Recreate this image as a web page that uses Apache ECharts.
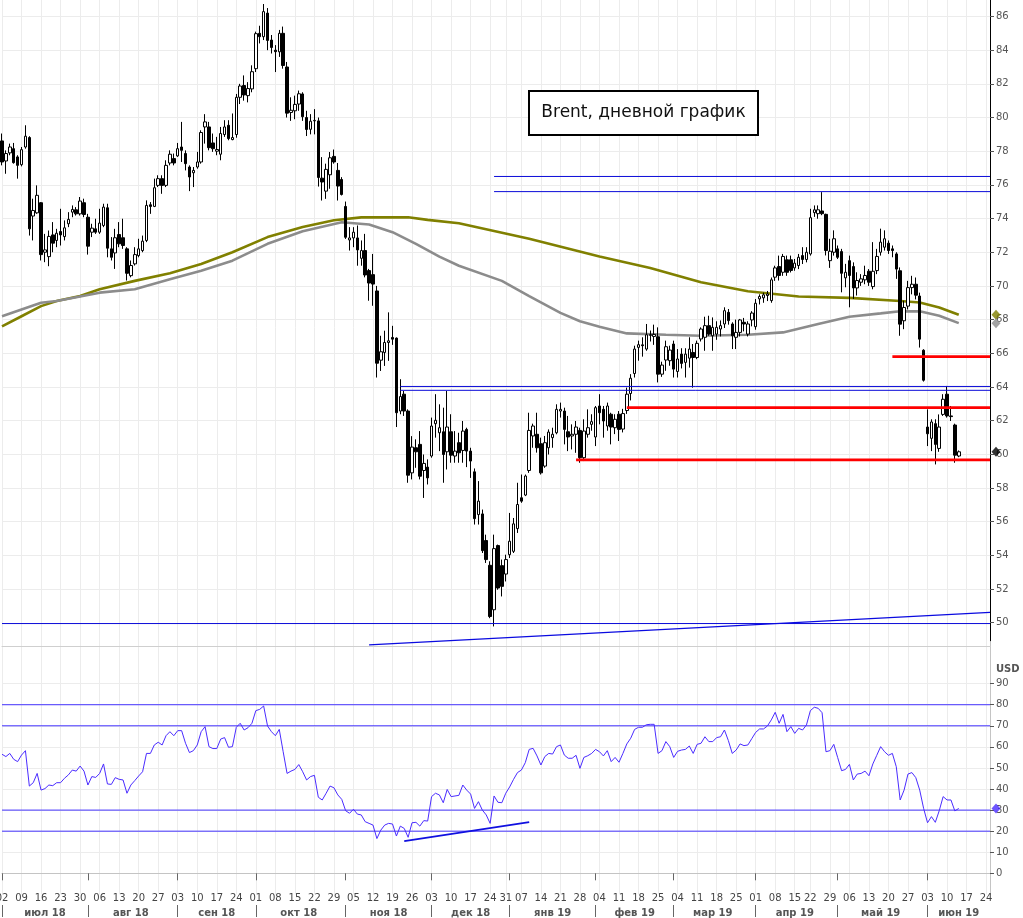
<!DOCTYPE html>
<html><head><meta charset="utf-8">
<script src="https://cdn.jsdelivr.net/npm/echarts@6/dist/echarts.min.js"></script>
<style>html,body{margin:0;padding:0;background:#fff}#c{width:1023px;height:918px}</style>
</head><body><div id="c"></div>
<script>
// ---------- data ----------
const startDate = '2018-07-02';
const endDate = '2019-06-25';
const holidays = ['2018-12-25', '2019-01-01', '2019-04-19'];
const monthNames = ['янв','фев','мар','апр','май','июн','июл','авг','сен','окт','ноя','дек'];
const titleText = 'Brent, дневной график';
const rsiUnit = 'USD';
const priceTicks = [50,52,54,56,58,60,62,64,66,68,70,72,74,76,78,80,82,84,86];
const rsiTicks = [0,10,20,30,40,50,60,70,80,90];

// [open, close, low, high] per trading day from 2018-07-02
const candles = [
[78.61,77.36,77.16,79.05],[77.42,77.86,76.66,78.05],[77.9,78.25,77.76,78.45],[78.15,77.32,77.26,78.49],[77.66,77.16,76.37,77.76],
[77.2,78.09,77.1,78.25],[78.25,78.89,78.15,79.54],[78.81,73.39,72.99,78.89],[74.15,74.48,72.7,75.18],[74.34,75.38,74.28,75.97],
[74.94,71.86,71.51,74.98],[72.0,72.14,71.41,73.09],[71.74,72.94,71.17,73.29],[73.03,72.54,72.0,73.79],[72.7,73.13,72.3,73.39],
[73.23,73.03,72.4,74.58],[72.93,73.45,72.7,73.89],[73.69,73.95,73.49,74.38],[74.38,74.54,74.08,74.78],[74.52,74.28,74.18,74.68],
[74.28,75.04,74.18,75.28],[74.94,74.24,74.08,75.18],[74.08,72.36,71.86,74.28],[73.19,73.43,72.9,73.69],[73.39,73.19,73.09,73.99],
[73.19,73.73,73.09,74.58],[73.59,74.68,73.49,74.88],[74.64,72.24,71.7,74.88],[72.2,71.7,71.51,72.9],[71.96,72.86,71.01,73.39],
[73.05,72.5,72.3,73.79],[72.86,72.4,72.2,73.99],[72.2,70.75,70.32,72.3],[70.61,71.21,70.51,71.51],[71.31,71.86,71.21,72.3],
[71.8,72.2,71.7,72.8],[72.1,72.66,72.0,72.99],[72.7,74.78,72.6,75.08],[74.82,74.72,74.28,74.98],[74.72,75.83,74.68,76.37],
[75.97,76.37,75.87,76.57],[76.37,75.97,75.47,76.57],[75.97,77.16,75.87,77.46],[77.3,77.82,77.16,78.05],[77.56,77.3,77.16,77.86],
[77.72,78.15,77.66,78.49],[78.25,78.05,77.36,79.74],[77.86,77.26,76.86,78.05],[77.06,76.47,75.63,77.16],[76.72,76.86,75.87,77.06],
[77.06,77.36,76.96,77.96],[77.36,79.11,77.26,79.24],[79.44,79.74,78.45,80.2],[79.44,78.21,78.05,79.74],[78.49,78.15,77.96,79.05],
[78.0,78.1,77.76,78.85],[77.82,79.05,77.46,79.44],[78.99,79.44,78.85,79.84],[79.54,78.75,78.65,79.84],[78.69,78.81,78.65,80.24],
[78.99,81.2,78.8,81.4],[81.2,81.87,80.8,82.0],[81.9,81.34,81.0,82.5],[81.3,81.72,80.9,82.1],[81.7,82.72,81.5,83.1],
[82.9,84.98,82.7,85.1],[85.0,84.8,84.4,85.45],[84.8,86.29,84.6,86.74],[86.2,84.58,84.0,86.5],[84.6,84.16,83.8,84.9],
[84.0,83.91,82.7,84.3],[83.9,85.0,83.6,85.2],[85.0,83.09,82.9,85.4],[83.0,80.26,80.0,83.3],[80.3,80.43,79.8,81.2],
[80.4,80.78,79.9,81.3],[80.8,81.41,80.4,81.6],[81.4,80.05,79.8,81.5],[80.0,79.29,78.9,80.4],[79.3,79.78,79.0,80.2],
[79.8,79.83,79.0,80.5],[79.8,76.44,75.9,80.0],[76.4,76.17,75.07,77.65],[75.63,76.92,75.17,77.26],[76.6,77.61,75.77,77.95],
[77.69,77.36,77.26,78.1],[76.86,75.93,75.07,77.3],[76.32,75.43,75.37,76.46],[74.72,72.89,72.79,75.01],[72.73,72.85,72.1,73.49],
[72.85,73.19,72.3,73.49],[72.85,72.14,71.2,73.59],[71.64,72.1,71.2,72.7],[72.1,70.65,70.51,73.09],[70.91,70.17,69.12,71.01],
[70.67,70.11,68.82,71.9],[69.7,65.41,64.56,70.0],[65.59,66.09,64.95,67.04],[66.05,66.64,65.25,67.34],[66.64,66.74,65.55,68.43],
[66.94,66.84,66.5,67.63],[66.9,62.47,61.62,66.94],[62.57,63.43,62.38,64.46],[63.57,62.57,62.28,63.76],[62.57,58.76,58.31,62.67],
[58.9,60.43,58.51,61.08],[60.39,60.15,59.2,60.89],[60.59,58.7,58.51,61.38],[59.04,59.46,57.41,59.99],[59.24,58.6,58.21,59.7],
[59.9,61.68,59.8,62.18],[61.82,62.02,60.99,63.57],[61.28,61.58,60.19,62.97],[61.34,59.99,58.31,62.77],[60.15,61.62,59.1,63.76],
[61.34,59.95,59.5,62.38],[59.9,60.19,59.5,61.38],[60.69,60.09,59.5,61.28],[60.23,61.38,59.5,61.98],[61.48,60.19,59.24,61.58],
[60.19,59.6,58.6,60.39],[58.96,56.18,55.83,59.16],[56.42,57.22,55.83,58.41],[56.46,54.28,54.14,56.72],[54.88,53.75,53.55,55.23],
[53.41,50.37,50.27,53.65],[50.77,54.4,49.78,55.23],[54.58,52.06,51.96,54.64],[53.39,52.16,51.56,53.75],[52.89,53.75,52.45,54.04],
[54.04,54.84,53.84,56.52],[54.24,55.87,54.14,56.22],[55.59,57.02,55.33,58.31],[57.42,57.22,57.12,58.8],[57.58,58.71,57.52,58.8],
[59.04,61.42,58.9,62.47],[61.09,61.68,60.39,61.82],[61.19,60.39,60.1,62.47],[60.63,58.9,58.8,60.99],[59.3,60.69,59.2,61.09],
[60.39,61.32,59.99,61.48],[60.99,61.19,60.39,61.58],[61.28,62.67,61.19,62.97],[62.57,62.67,62.18,63.07],[62.57,61.48,60.59,62.77],
[61.34,61.03,60.19,62.28],[61.09,61.19,60.29,61.78],[61.19,61.62,60.09,61.98],[61.42,59.8,59.5,61.58],[59.8,61.38,59.6,62.08],
[61.19,61.58,60.99,62.67],[61.78,61.94,61.4,62.38],[61.03,62.77,60.49,62.87],[62.87,62.47,61.78,63.57],[62.67,61.98,60.99,62.87],
[61.68,62.87,61.4,63.07],[62.38,61.62,60.59,62.47],[61.58,62.08,61.2,62.38],[62.38,61.48,60.79,62.57],[61.5,62.42,61.3,62.7],
[62.6,63.57,62.4,63.96],[63.61,64.52,63.2,64.76],[64.8,66.25,64.56,66.45],[66.35,66.51,65.56,66.75],[66.5,66.45,65.8,66.95],
[66.25,67.1,66.15,67.74],[67.1,67.07,66.7,67.35],[67.0,67.12,66.5,67.7],[66.98,64.76,64.27,67.54],[64.76,65.3,64.6,65.5],
[65.6,66.39,64.96,66.75],[65.56,66.19,65.26,66.45],[66.55,65.06,64.56,66.75],[64.92,65.66,64.56,66.25],[65.95,65.4,65.1,66.3],
[65.46,65.95,64.56,66.3],[65.71,66.25,65.15,66.95],[66.05,65.75,63.96,66.55],[65.75,66.59,65.65,66.75],[66.85,67.44,66.7,67.54],
[66.95,67.64,66.15,68.17],[67.64,67.14,67.04,68.23],[67.04,67.54,66.15,68.13],[67.14,67.54,66.8,67.9],[67.44,67.64,67.0,67.95],
[67.74,68.53,67.5,68.73],[68.43,67.94,67.7,68.63],[67.74,67.04,66.25,67.84],[66.95,67.24,66.25,68.0],[67.24,67.98,67.0,68.04],
[67.84,67.74,67.3,68.1],[67.14,67.74,67.0,67.9],[67.98,68.39,67.6,68.5],[67.58,68.97,67.4,69.22],[69.23,69.37,68.9,69.5],
[69.29,69.47,69.0,69.6],[69.43,69.52,69.1,69.7],[69.13,70.36,69.0,70.5],[70.52,71.07,70.3,71.2],[71.15,70.62,70.32,71.8],
[70.81,71.75,70.6,71.9],[71.55,70.81,70.6,71.8],[71.55,70.92,70.8,71.8],[71.07,71.35,70.9,71.6],[71.21,71.7,71.0,71.9],
[71.8,71.57,71.3,72.3],[71.57,72.0,71.4,72.3],[71.9,74.05,71.8,74.58],[74.35,74.52,74.1,74.78],[74.29,74.52,73.99,74.78],
[74.45,74.29,74.2,75.57],[74.25,72.1,71.81,74.29],[71.5,72.06,71.07,72.8],[72.0,72.8,71.8,73.3],[72.2,71.7,71.6,72.4],
[72.04,70.75,69.62,72.2],[70.48,70.81,69.92,71.31],[71.5,70.62,68.73,71.8],[71.15,69.88,69.23,71.4],[69.88,70.32,69.43,70.81],
[70.22,70.42,70.0,70.7],[70.36,70.62,70.1,71.2],[70.87,70.22,70.0,71.0],[69.96,70.87,69.8,72.6],[70.91,71.75,70.7,72.2],
[72.0,72.6,71.8,73.4],[72.3,72.8,72.1,73.3],[72.54,72.1,71.9,72.7],[72.2,72.1,71.7,72.4],[71.9,71.0,70.42,72.0],
[70.9,67.73,67.04,71.1],[67.93,68.72,67.43,69.12],[68.8,69.9,68.6,70.3],[69.9,70.1,69.5,70.6],[70.1,69.45,69.2,70.5],
[69.4,66.84,66.34,69.6],[66.18,64.4,64.32,66.24],[61.62,61.22,60.49,62.67],[60.95,61.92,60.19,62.08],[61.82,60.59,59.4,62.08],
[60.35,61.62,60.15,62.37],[62.37,63.27,62.28,63.57],[63.57,62.28,62.18,64.06],[62.28,62.24,61.98,62.87],[61.74,59.95,59.5,61.82],
[59.9,60.15,59.83,60.23]
];

// RSI per trading day
const rsi = [
56.5,55.4,56.9,54.1,53.0,56.1,58.2,41.4,43.0,47.4,
39.5,40.2,41.9,41.6,43.0,43.0,45.1,46.7,49.0,48.5,
50.9,48.5,41.9,45.9,45.5,47.4,51.9,42.4,42.2,45.4,
44.6,44.3,38.0,41.9,44.0,46.2,48.2,56.9,56.9,60.9,
62.2,60.9,65.3,67.2,65.3,67.7,67.7,61.7,57.3,58.2,
60.9,67.2,69.6,60.1,59.2,59.2,63.7,64.4,59.8,60.1,
69.3,71.2,68.0,69.1,71.2,77.2,77.8,79.4,69.9,67.2,
65.3,68.3,57.7,47.4,48.5,49.3,51.6,48.2,44.3,45.9,
46.5,36.1,34.8,38.0,41.4,40.6,37.2,35.1,29.7,28.5,
30.4,28.1,27.7,24.5,23.7,22.9,16.5,20.5,22.9,23.7,
23.4,17.7,22.4,21.3,17.1,24.0,24.2,22.4,25.0,24.8,
36.4,38.0,37.2,33.5,39.8,36.4,36.7,37.0,41.9,39.5,
37.6,30.8,34.0,30.0,27.7,23.7,36.7,33.7,33.5,38.0,
41.0,44.6,47.8,49.0,52.5,58.8,59.3,55.7,51.4,55.4,
56.9,56.6,60.1,60.9,56.1,54.6,54.6,56.0,49.8,55.0,
55.8,56.9,58.8,57.7,55.7,58.2,53.0,55.0,52.7,56.9,
61.4,64.1,68.3,69.3,69.3,70.5,70.7,70.7,56.9,58.2,
62.5,60.1,55.0,57.9,58.5,58.8,60.4,56.9,61.2,61.7,
64.8,62.5,62.5,64.4,64.8,68.0,63.0,56.9,58.5,61.4,
60.6,60.9,63.9,66.9,68.5,68.5,69.9,72.8,76.4,71.2,
75.4,67.2,69.6,66.4,68.8,68.0,70.4,77.2,78.8,78.3,
76.2,57.7,58.2,61.2,54.9,48.7,49.3,51.7,44.3,47.1,
47.4,48.5,46.3,51.9,56.0,60.1,57.7,56.0,56.9,50.6,
34.8,39.5,47.1,47.8,45.4,39.5,30.8,24.0,26.9,24.2,
29.7,36.4,34.8,34.8,29.6,30.8
];

// moving averages read at [trading-day index, value]
const maOlive = [[0,67.6],[5,68.2],[10,68.8],[14,69.1],[20,69.4],[25,69.8],[34,70.3],[43,70.75],[51,71.3],[59,72.0],[68,72.9],[77,73.5],[85,73.9],[92,74.07],[104,74.08],[109,73.92],[117,73.72],[135,72.8],[153,71.75],[166,71.07],[179,70.22],[191,69.68],[204,69.37],[217,69.29],[230,69.1],[235,69.02],[240,68.72],[245,68.29]];
const maGray = [[0,68.2],[10,69.0],[14,69.1],[25,69.6],[34,69.8],[43,70.4],[51,70.9],[59,71.5],[68,72.5],[77,73.25],[87,73.78],[94,73.65],[100,73.19],[106,72.5],[112,71.74],[117,71.2],[128,70.3],[135,69.4],[143,68.4],[148,67.9],[153,67.58],[160,67.18],[170,67.1],[179,67.04],[191,67.1],[200,67.24],[209,67.74],[217,68.17],[225,68.37],[230,68.5],[235,68.49],[240,68.23],[245,67.79]];

// horizontal levels: [start index, price]  (run to the right edge)
const blueLevels = [[126,76.5],[126,75.6],[102,64.03],[102,63.8],[0,49.95]];
const redLevels = [[228,65.8],[160,62.77],[147,59.67]];
const priceTrend = [[94,48.68],[253,50.61]];
const rsiLevels = [80,70,30,20];
const rsiTrend = [[103,15.3],[135,24.3]];

// ---------- helpers ----------
function tradingDays(s, e, hol) {
  const out = []; const d = new Date(s + 'T00:00:00Z'); const end = new Date(e + 'T00:00:00Z');
  while (d <= end) {
    const wd = d.getUTCDay(); const str = d.toISOString().slice(0, 10);
    if (wd !== 0 && wd !== 6 && hol.indexOf(str) < 0) out.push(str);
    d.setUTCDate(d.getUTCDate() + 1);
  }
  return out;
}
const cats = tradingDays(startDate, endDate, holidays);
const last = cats.length - 1;
const monthStart = new Set(), monthMid = new Set();
(function () {
  let a = 0;
  for (let i = 1; i <= cats.length; i++) {
    if (i === cats.length || cats[i].slice(0, 7) !== cats[a].slice(0, 7)) {
      monthStart.add(a); monthMid.add(Math.round((a + i - 1) / 2)); a = i;
    }
  }
})();
const isMonday = (idx, val) => new Date(val + 'T00:00:00Z').getUTCDay() === 1;
const isMonthStart = (idx) => monthStart.has(idx);
const isMonthMid = (idx) => monthMid.has(idx);

const FONT = '"DejaVu Sans", Verdana, sans-serif';
const GRIDC = '#ececec';
const mainSplit = []; for (let v = 48; v <= 88; v += 2) mainSplit.push(v === 48 ? 'rgba(0,0,0,0)' : GRIDC);
const rsiSplit = []; for (let v = -10; v <= 110; v += 10) rsiSplit.push((v < 0 || v > 100) ? 'rgba(0,0,0,0)' : GRIDC);

const series = [];
series.push({ type: 'line', name: 'maOlive', xAxisIndex: 0, yAxisIndex: 0, z: 2, symbol: 'none', animation: false,
  data: maOlive.map(p => [cats[p[0]], p[1]]), lineStyle: { color: '#808000', width: 2.6 } });
series.push({ type: 'line', name: 'maGray', xAxisIndex: 0, yAxisIndex: 0, z: 2, symbol: 'none', animation: false,
  data: maGray.map(p => [cats[p[0]], p[1]]), lineStyle: { color: '#8c8c8c', width: 2.6 } });
series.push({ type: 'candlestick', xAxisIndex: 0, yAxisIndex: 0, z: 3, barWidth: 3,
  data: candles,
  itemStyle: { color: '#ffffff', color0: '#000000', borderColor: '#000000', borderColor0: '#000000', borderWidth: 1 } });
blueLevels.forEach(l => series.push({ type: 'line', xAxisIndex: 0, yAxisIndex: 0, z: 4, symbol: 'none', silent: true,
  data: [[cats[l[0]], l[1]], [cats[last], l[1]]], lineStyle: { color: '#0a0ad8', width: 1 } }));
redLevels.forEach(l => series.push({ type: 'line', xAxisIndex: 0, yAxisIndex: 0, z: 4, symbol: 'none', silent: true,
  data: [[cats[l[0]], l[1]], [cats[last], l[1]]], lineStyle: { color: '#ff0000', width: 2.6 } }));
series.push({ type: 'line', xAxisIndex: 0, yAxisIndex: 0, z: 4, symbol: 'none', silent: true,
  data: priceTrend.map(p => [cats[p[0]], p[1]]), lineStyle: { color: '#0a0ae0', width: 1.3 } });
// RSI
series.push({ type: 'line', xAxisIndex: 1, yAxisIndex: 1, z: 3, symbol: 'none',
  data: rsi, lineStyle: { color: '#4a2cff', width: 1 } });
rsiLevels.forEach(v => series.push({ type: 'line', xAxisIndex: 1, yAxisIndex: 1, z: 2, symbol: 'none', silent: true,
  data: [[cats[0], v], [cats[last], v]], lineStyle: { color: '#4433ff', width: 1 } }));
series.push({ type: 'line', xAxisIndex: 1, yAxisIndex: 1, z: 4, symbol: 'none', silent: true,
  data: rsiTrend.map(p => [cats[p[0]], p[1]]), lineStyle: { color: '#1010e0', width: 1.8 } });
// axis value markers
const mk = (xi, yi, v, c) => ({ type: 'scatter', xAxisIndex: xi, yAxisIndex: yi, z: 10, clip: false, silent: true,
  symbol: 'diamond', symbolSize: [9, 10], symbolOffset: [6, 0], data: [[cats[last], v]], itemStyle: { color: c } });
series.push(mk(0, 0, maOlive[maOlive.length - 1][1], '#808000'));
series.push(mk(0, 0, maGray[maGray.length - 1][1], '#8c8c8c'));
series.push(mk(0, 0, candles[candles.length - 1][1], '#000000'));
series.push(mk(1, 1, rsi[rsi.length - 1], '#4a2cff'));

const chart = echarts.init(document.getElementById('c'), null, { renderer: 'canvas' });
chart.setOption({
  animation: false,
  backgroundColor: '#ffffff',
  grid: [
    { left: 2, width: 988, top: -17.2, height: 673.6, outerBoundsMode: 'none', containLabel: false },
    { left: 2, width: 988, top: 641.5, height: 252.9, outerBoundsMode: 'none', containLabel: false }
  ],
  xAxis: [
    { type: 'category', gridIndex: 0, data: cats, boundaryGap: false, offset: -10.4,
      axisLine: { show: true, lineStyle: { color: '#cfcfcf' } }, axisTick: { show: false }, axisLabel: { show: false },
      splitLine: { show: true, interval: isMonday, lineStyle: { color: GRIDC } } },
    { type: 'category', gridIndex: 1, data: cats, boundaryGap: false, position: 'bottom', offset: -6.4,
      axisLine: { show: true, lineStyle: { color: '#c4c4c4' } },
      axisTick: { show: true, interval: isMonthStart, length: 7, lineStyle: { color: '#666' } },
      axisLabel: { show: true, interval: isMonday, formatter: v => v.slice(8, 10), fontFamily: FONT, fontSize: 10, color: '#444', margin: 5 },
      splitLine: { show: true, interval: isMonday, lineStyle: { color: GRIDC } } },
    { type: 'category', gridIndex: 1, data: cats, boundaryGap: false, position: 'bottom', offset: 10.6,
      axisLine: { show: false },
      axisTick: { show: true, interval: isMonthStart, length: 12, lineStyle: { color: '#666' } },
      axisLabel: { show: true, interval: isMonthMid, fontFamily: FONT, fontSize: 10, fontWeight: 'bold', color: '#555', margin: 3,
        formatter: v => monthNames[+v.slice(5, 7) - 1] + ' ' + v.slice(2, 4) },
      splitLine: { show: false } }
  ],
  yAxis: [
    { type: 'value', gridIndex: 0, position: 'right', min: 48, max: 88, interval: 2,
      axisLine: { show: true, lineStyle: { color: '#000' } },
      axisTick: { show: true, length: 4, customValues: priceTicks, lineStyle: { color: '#555' } },
      axisLabel: { fontFamily: FONT, fontSize: 10, color: '#555', margin: 6, customValues: priceTicks,
        formatter: v => (v <= 48 || v >= 88) ? '' : String(v) },
      splitLine: { show: true, lineStyle: { color: mainSplit } } },
    { type: 'value', gridIndex: 1, position: 'right', min: -10, max: 110, interval: 10,
      axisLine: { show: true, lineStyle: { color: '#c4c4c4' } },
      axisTick: { show: true, length: 4, customValues: rsiTicks, lineStyle: { color: '#555' } },
      axisLabel: { fontFamily: FONT, fontSize: 10, color: '#555', margin: 6, customValues: rsiTicks,
        formatter: v => (v < 0 || v > 90) ? '' : String(v) },
      splitLine: { show: true, lineStyle: { color: rsiSplit } } }
  ],
  graphic: [
    { type: 'group', left: 528, top: 90, z: 100, children: [
      { type: 'rect', z: 100, shape: { x: 0, y: 0, width: 229, height: 44 }, style: { fill: '#fff', stroke: '#000', lineWidth: 2, lineDash: null } },
      { type: 'text', z: 101, x: 114.5, y: 22, style: { text: titleText, font: '17px ' + FONT, fill: '#111', align: 'center', verticalAlign: 'middle' } }
    ] },
    { type: 'text', z: 100, left: 996, top: 664, style: { text: rsiUnit, font: 'bold 10px ' + FONT, fill: '#555' } }
  ],
  series: series
});
</script>
</body></html>
